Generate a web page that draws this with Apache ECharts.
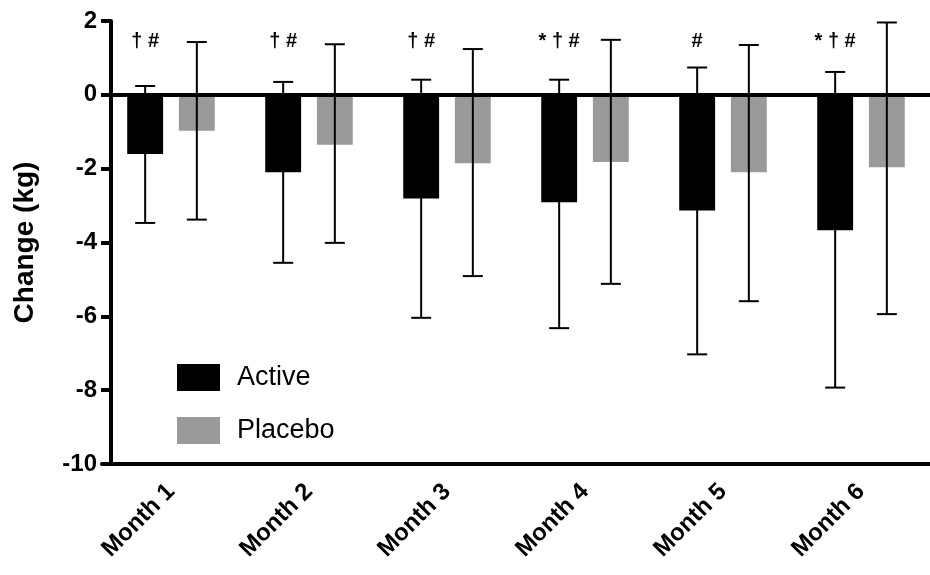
<!DOCTYPE html>
<html>
<head>
<meta charset="utf-8">
<script src="https://cdn.jsdelivr.net/npm/echarts@6/dist/echarts.min.js"></script>
<style>html,body{margin:0;padding:0;background:#fff;}#c{width:930px;height:575px;}</style>
</head>
<body>
<div id="c"></div>
<script>
var categories = ['Month 1', 'Month 2', 'Month 3', 'Month 4', 'Month 5', 'Month 6'];
var activeMean = [-1.60, -2.10, -2.81, -2.91, -3.13, -3.67];
var activeHigh = [0.24, 0.35, 0.41, 0.41, 0.74, 0.62];
var activeLow = [-3.47, -4.55, -6.04, -6.32, -7.03, -7.93];
var placeboMean = [-0.97, -1.35, -1.85, -1.82, -2.10, -1.96];
var placeboHigh = [1.43, 1.37, 1.24, 1.49, 1.35, 1.96];
var placeboLow = [-3.38, -4.01, -4.91, -5.12, -5.59, -5.94];
var activeMarks = ['\u2020 #', '\u2020 #', '\u2020 #', '* \u2020 #', '#', '* \u2020 #'];
var markLevel = 1.45;
var yTicks = [2, 0, -2, -4, -6, -8, -10];

var FONT = '"Liberation Sans", Arial, sans-serif';
var BAR_FRAC = 0.26, GAP_FRAC = 0.44;
function barOffset(api, side) {
  var band = api.size([1, 0])[0];
  return side * band * BAR_FRAC * (1 + GAP_FRAC) / 2;
}
function errItem(highArr, lowArr, side) {
  return function (params, api) {
    var i = api.value(0);
    var off = barOffset(api, side);
    var top = api.coord([i, highArr[i]]);
    var bot = api.coord([i, lowArr[i]]);
    var x = top[0] + off;
    var cap = 10;
    var st = { stroke: '#000', lineWidth: 2 };
    return {
      type: 'group',
      children: [
        { type: 'line', shape: { x1: x, y1: top[1], x2: x, y2: bot[1] }, style: st },
        { type: 'line', shape: { x1: x - cap, y1: top[1], x2: x + cap, y2: top[1] }, style: st },
        { type: 'line', shape: { x1: x - cap, y1: bot[1], x2: x + cap, y2: bot[1] }, style: st }
      ]
    };
  };
}
var idx = categories.map(function (c, i) { return [i]; });

var chart = echarts.init(document.getElementById('c'));
chart.setOption({
  animation: false,
  backgroundColor: '#fff',
  textStyle: { fontFamily: FONT },
  grid: { left: 102, top: 21, width: 840, height: 443 },
  legend: {
    data: ['Active', 'Placebo'],
    orient: 'vertical',
    left: 172, top: 359,
    itemWidth: 43, itemHeight: 27, itemGap: 26,
    icon: 'rect',
    textStyle: { fontSize: 27, color: '#000', fontFamily: FONT, padding: [0, 0, 0, 12] }
  },
  xAxis: {
    type: 'category',
    data: categories,
    axisLine: { onZero: false, lineStyle: { color: '#000', width: 4 } },
    axisTick: { alignWithLabel: true, length: 13, lineStyle: { color: '#000', width: 4 } },
    axisLabel: { rotate: 45, fontSize: 24, fontWeight: 'bold', color: '#000', margin: 24, fontFamily: FONT }
  },
  yAxis: {
    type: 'value',
    min: -10, max: 2, interval: 2,
    offset: -9,
    name: 'Change (kg)',
    nameLocation: 'middle',
    nameGap: 72,
    nameTextStyle: { fontSize: 28, fontWeight: 'bold', color: '#000', fontFamily: FONT },
    splitLine: { show: false },
    axisLine: { show: true, lineStyle: { color: '#000', width: 4 } },
    axisTick: { show: true, length: 10, lineStyle: { color: '#000', width: 4 } },
    axisLabel: { fontSize: 24, fontWeight: 'bold', color: '#000', margin: 14, fontFamily: FONT }
  },
  series: [
    {
      name: 'Active', type: 'bar', data: activeMean,
      barWidth: (BAR_FRAC * 100) + '%', barGap: (GAP_FRAC * 100) + '%',
      itemStyle: { color: '#000' },
      markLine: {
        silent: true, symbol: 'none', label: { show: false },
        lineStyle: { color: '#000', width: 4, type: 'solid' },
        data: [{ yAxis: 0 }]
      }
    },
    {
      name: 'Placebo', type: 'bar', data: placeboMean,
      barWidth: (BAR_FRAC * 100) + '%',
      itemStyle: { color: '#9a9a9a' }
    },
    { type: 'custom', data: idx, renderItem: errItem(activeHigh, activeLow, -1), z: 5, silent: true },
    { type: 'custom', data: idx, renderItem: errItem(placeboHigh, placeboLow, 1), z: 5, silent: true },
    {
      type: 'custom', data: idx, z: 6, silent: true,
      renderItem: function (params, api) {
        var i = api.value(0);
        var p = api.coord([i, markLevel]);
        return {
          type: 'text',
          style: {
            x: p[0] + barOffset(api, -1), y: p[1],
            text: activeMarks[i],
            align: 'center', verticalAlign: 'middle',
            font: 'bold 20px ' + FONT, fill: '#000'
          }
        };
      }
    }
  ]
});
</script>
</body>
</html>
